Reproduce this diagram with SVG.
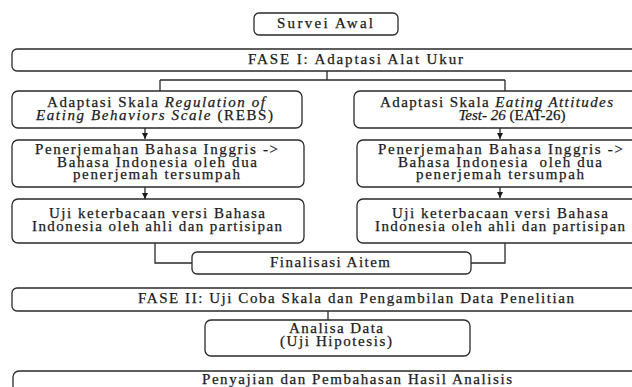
<svg xmlns="http://www.w3.org/2000/svg" width="632" height="387" viewBox="0 0 632 387">
<defs>
<style>
.box{fill:#fff;stroke:#2a2a2a;stroke-width:1.3}
.t{font-family:"Liberation Serif","Times New Roman",serif;font-size:15px;fill:#1a1a1a;stroke:#1a1a1a;stroke-width:0.25;text-anchor:start}
.m{text-anchor:middle}
.i{font-style:italic}
.c{fill:none;stroke:#2a2a2a;stroke-width:1.3}
</style>
<marker id="ah" viewBox="0 0 10 10" refX="10" refY="5" markerWidth="6" markerHeight="6" markerUnits="userSpaceOnUse" orient="auto">
<path d="M0,0 L10,5 L0,10 z" fill="#1a1a1a"/>
</marker>
</defs>
<rect width="632" height="387" fill="#fff"/>

<g id="connectors">
<path class="c" d="M327,71 V80 M160,80 H505 M160,80 V91 M505,80 V91"/>
<path class="c" d="M145,128 V139" marker-end="url(#ah)"/>
<path class="c" d="M500,128 V139" marker-end="url(#ah)"/>
<path class="c" d="M145,187 V199" marker-end="url(#ah)"/>
<path class="c" d="M500,187 V198" marker-end="url(#ah)"/>
<path class="c" d="M155,243 V263 H192"/>
<path class="c" d="M505,243 V263 H471"/>
<path class="c" d="M328,311 V320"/>
</g>

<g id="survei">
<rect class="box" x="254" y="13" width="144" height="22" rx="5"/>
<text class="t" x="277" y="28" textLength="96" lengthAdjust="spacing">Survei Awal</text>
</g>

<g id="fase1">
<rect class="box" x="12" y="49" width="640" height="22" rx="5"/>
<text class="t" x="248" y="64" textLength="215" lengthAdjust="spacing">FASE I: Adaptasi Alat Ukur</text>
</g>

<g id="rebs">
<rect class="box" x="12" y="91" width="290" height="37" rx="6"/>
<text class="t" x="47" y="107" textLength="218" lengthAdjust="spacing">Adaptasi Skala <tspan class="i">Regulation of</tspan></text>
<text class="t" x="36" y="120" textLength="237" lengthAdjust="spacing"><tspan class="i">Eating Behaviors Scale</tspan> (REBS)</text>
</g>

<g id="eat">
<rect class="box" x="354" y="91" width="300" height="37" rx="6"/>
<text class="t" x="380" y="107" textLength="233" lengthAdjust="spacing">Adaptasi Skala <tspan class="i">Eating Attitudes</tspan></text>
<text class="t m" x="512" y="120"><tspan class="i">Test- 26</tspan> (EAT-26)</text>
</g>

<g id="terjemah1">
<rect class="box" x="12" y="140" width="292" height="47" rx="6"/>
<text class="t" x="35" y="154" textLength="243" lengthAdjust="spacing">Penerjemahan Bahasa Inggris -&gt;</text>
<text class="t" x="57" y="167" textLength="200" lengthAdjust="spacing">Bahasa Indonesia oleh dua</text>
<text class="t" x="73" y="179" textLength="167" lengthAdjust="spacing">penerjemah tersumpah</text>
</g>

<g id="terjemah2">
<rect class="box" x="357" y="140" width="300" height="47" rx="6"/>
<text class="t" x="378" y="154" textLength="245" lengthAdjust="spacing">Penerjemahan Bahasa Inggris -&gt;</text>
<text class="t" x="398" y="167" textLength="204" lengthAdjust="spacing" xml:space="preserve">Bahasa Indonesia  oleh dua</text>
<text class="t" x="416" y="179" textLength="168" lengthAdjust="spacing">penerjemah tersumpah</text>
</g>

<g id="uji1">
<rect class="box" x="12" y="199" width="292" height="44" rx="6"/>
<text class="t" x="49" y="218" textLength="216" lengthAdjust="spacing">Uji keterbacaan versi Bahasa</text>
<text class="t" x="32" y="231" textLength="250" lengthAdjust="spacing">Indonesia oleh ahli dan partisipan</text>
</g>

<g id="uji2">
<rect class="box" x="357" y="199" width="300" height="44" rx="6"/>
<text class="t" x="392" y="218" textLength="216" lengthAdjust="spacing">Uji keterbacaan versi Bahasa</text>
<text class="t" x="375" y="231" textLength="250" lengthAdjust="spacing">Indonesia oleh ahli dan partisipan</text>
</g>

<g id="finalisasi">
<rect class="box" x="192" y="252" width="279" height="22" rx="5"/>
<text class="t" x="270" y="267" textLength="120" lengthAdjust="spacing">Finalisasi Aitem</text>
</g>

<g id="fase2">
<rect class="box" x="12" y="288" width="640" height="23" rx="5"/>
<text class="t" x="138" y="303" textLength="436" lengthAdjust="spacing">FASE II: Uji Coba Skala dan Pengambilan Data Penelitian</text>
</g>

<g id="analisa">
<rect class="box" x="205" y="320" width="265" height="36" rx="6"/>
<text class="t" x="289" y="333" textLength="94" lengthAdjust="spacing">Analisa Data</text>
<text class="t" x="280" y="346" textLength="112" lengthAdjust="spacing">(Uji Hipotesis)</text>
</g>

<g id="penyajian">
<rect class="box" x="13" y="371" width="640" height="40" rx="6"/>
<text class="t" x="202" y="384" textLength="310" lengthAdjust="spacing">Penyajian dan Pembahasan Hasil Analisis</text>
</g>
</svg>
